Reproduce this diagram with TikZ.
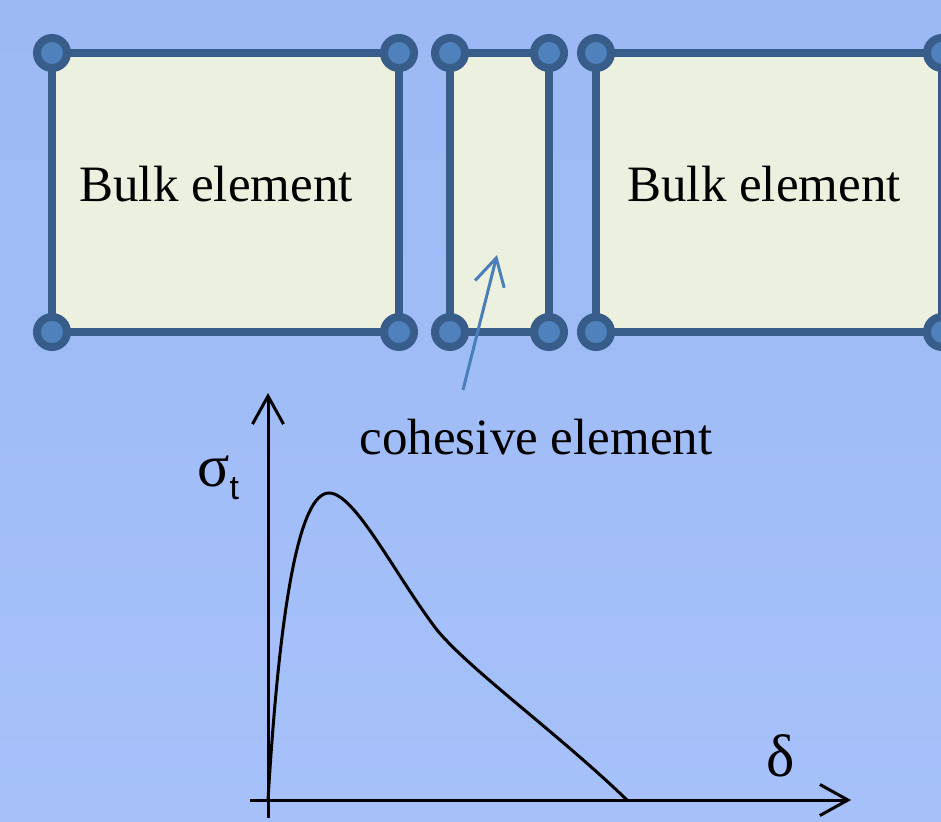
\documentclass[tikz,border=0pt]{standalone}
\usepackage{fontspec}
\setmainfont{Liberation Serif}
\setsansfont{Liberation Sans}
\usetikzlibrary{arrows.meta}
\usetikzlibrary{positioning}
\usetikzlibrary{backgrounds}

\definecolor{bgtop}{RGB}{156,185,245}
\definecolor{bgbot}{RGB}{166,193,250}
\definecolor{elemfill}{RGB}{235,241,222}
\definecolor{elemline}{RGB}{56,93,138}
\definecolor{jointfill}{RGB}{79,129,189}
\definecolor{pointblue}{RGB}{74,126,187}

\begin{document}
\begin{tikzpicture}[
  x=0.5pt,
  y=-0.5pt,
  every node/.style={font=\fontsize{25.5}{30}\selectfont},
  joint/.style={circle, draw=elemline, fill=jointfill, line width=4pt, minimum size=15pt, inner sep=0pt},
  elem/.style={draw=elemline, fill=elemfill, line width=4pt},
  axis/.style={line width=1.5pt, -{Straight Barb[length=14pt, width=15.5pt]}},
  pointer/.style={draw=pointblue, line width=1.5pt, -{Straight Barb[length=13.5pt, width=15pt]}},
  law/.style={line width=1.5pt}
]

\def\yt{53}  
\def\yb{332} 

\useasboundingbox (0,0) rectangle (941,822);

% left bulk element
\node[joint] (a1) at (52,\yt) {};
\node[joint] (a2) at (399,\yt) {};
\node[joint] (a3) at (399,\yb) {};
\node[joint] (a4) at (52,\yb) {};

% cohesive element
\node[joint] (c1) at (450,\yt) {};
\node[joint] (c2) at (549,\yt) {};
\node[joint] (c3) at (549,\yb) {};
\node[joint] (c4) at (450,\yb) {};

% right bulk element
\node[joint] (b1) at (596,\yt) {};
\node[joint] (b2) at (942,\yt) {};
\node[joint] (b3) at (942,\yb) {};
\node[joint] (b4) at (596,\yb) {};

\begin{scope}[on background layer]
\shade[top color=bgtop, bottom color=bgbot] (0,0) rectangle (941,822);
\draw[elem] (a1.center) -- (a2.center) -- (a3.center) -- (a4.center) -- cycle;
\draw[elem] (c1.center) -- (c2.center) -- (c3.center) -- (c4.center) -- cycle;
\draw[elem] (b1.center) -- (b2.center) -- (b3.center) -- (b4.center) -- cycle;
\end{scope}

\node[anchor=base] (bulkL) at (216,202) {Bulk element};
\node[anchor=base] (bulkR) at (764,202) {Bulk element};
\node[anchor=base] (coh) at (536,455) {cohesive element};

\coordinate (ptail) at (463,390);
\coordinate (phead) at (497,255);
\draw[pointer] (ptail) -- (phead);

% traction-separation law
\coordinate (O) at (268,800);
\coordinate (ybot) at (268,818);
\coordinate (ytop) at (268,393);
\coordinate (xleft) at (250,800);
\coordinate (xright) at (851,800);
\coordinate (peak) at (329,493);
\coordinate (knee) at (437,630);
\coordinate (dend) at (628,801);

\draw[axis] (ybot) -- (ytop);
\draw[axis] (xleft) -- (xright);

\draw[law] (O) .. controls (280,600) and (300,493) .. (peak)
  .. controls (355,493) and (395,575) .. (knee)
  .. controls (470,670) and (560,735) .. (dend);

\node[anchor=base west, inner sep=0pt] (sig) at (197,487)
  {\fontsize{30}{30}\selectfont σ\raisebox{-6.5pt}{\fontsize{17}{17}\selectfont\sffamily t}};
\node[anchor=base, inner sep=0pt] (del) at (781,776) {\fontsize{30}{30}\selectfont δ};

\end{tikzpicture}
\end{document}
